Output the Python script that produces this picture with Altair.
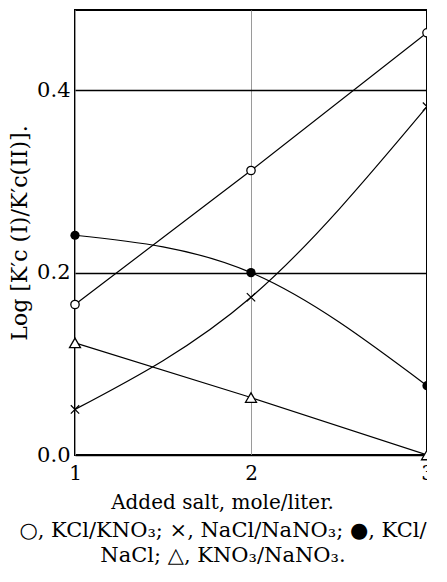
import altair as alt
import pandas as pd

salt = [1, 2, 3]
kcl_kno3 = [0.165, 0.312, 0.463]
nacl_nano3 = [0.050, 0.173, 0.382]
kcl_nacl = [0.241, 0.200, 0.076]
kno3_nano3 = [0.123, 0.063, 0.000]

y_ticks = [0.0, 0.2, 0.4]
x_ticks = [1, 2, 3]

FONT = "DejaVu Serif"

def frame(vals, name):
    return pd.DataFrame({"x": salt, "y": vals, "s": name})

x_enc = alt.X("x:Q", scale=alt.Scale(domain=[1, 3], nice=False, zero=False),
              axis=alt.Axis(values=x_ticks, grid=True, gridColor="#9a9a9a",
                            gridWidth=1, ticks=False, domain=False,
                            labelFlush=False, labelOverlap=False, labelBound=False,
                            labelExpr="datum.value",
                            labelFont=FONT, labelFontSize=20,
                            labelColor="black", labelPadding=8,
                            title="Added salt, mole/liter.", titleFont=FONT,
                            titleFontSize=20, titleFontWeight="normal", titleColor="black",
                            titleX=147, titleAlign="center", titlePadding=9))
y_enc = alt.Y("y:Q", scale=alt.Scale(domain=[0, 0.488], nice=False),
              axis=alt.Axis(values=y_ticks, format=".1f", grid=True, gridColor="black",
                            gridWidth=1.5, ticks=False, domain=False,
                            labelFlush=False, labelOverlap=False, labelBound=False,
                            labelFont=FONT, labelFontSize=21, labelColor="black", labelPadding=5,
                            title="Log [K′c (I)/K′c(II)].", titleFont=FONT,
                            titleFontSize=22, titleFontWeight="normal", titleColor="black",
                            titlePadding=5))

def line(vals, name, interp):
    return alt.Chart(frame(vals, name)).mark_line(color="black", strokeWidth=1.2,
                                                  interpolate=interp).encode(x=x_enc, y=y_enc)

l1 = line(kcl_kno3, "KCl/KNO3", "linear")
l2 = line(nacl_nano3, "NaCl/NaNO3", "natural")
l3 = line(kcl_nacl, "KCl/NaCl", "natural")
l4 = line(kno3_nano3, "KNO3/NaNO3", "linear")

p1 = alt.Chart(frame(kcl_kno3, "a")).mark_point(shape="circle", size=70, filled=True,
                                                 fill="white", stroke="black", strokeWidth=1.3,
                                                 opacity=1).encode(x=x_enc, y=y_enc)
p2 = alt.Chart(frame(nacl_nano3, "b")).mark_point(shape="M -1 -1 L 1 1 M -1 1 L 1 -1", size=70,
                                                   filled=False, stroke="black", strokeWidth=1.2,
                                                   opacity=1).encode(x=x_enc, y=y_enc)
p3 = alt.Chart(frame(kcl_nacl, "c")).mark_point(shape="circle", size=85, filled=True,
                                                 fill="black", opacity=1).encode(x=x_enc, y=y_enc)
p4 = alt.Chart(frame(kno3_nano3, "d")).mark_point(shape="triangle-up", size=120, filled=True,
                                                   fill="white", stroke="black", strokeWidth=1.3,
                                                   opacity=1).encode(x=x_enc, y=y_enc)

chart = alt.layer(l1, l2, l3, l4, p1, p2, p3, p4).properties(
    width=352, height=445,
    autosize=alt.AutoSizeParams(type="none"),
    padding={"left": 67, "top": 2, "right": 0, "bottom": 115},
    background="white",
    title=alt.TitleParams(
        text=["○, KCl/KNO₃;  ×, NaCl/NaNO₃;  ●, KCl/", "NaCl;  △, KNO₃/NaNO₃."],
        orient="bottom", anchor="middle", font=FONT, fontSize=21, fontWeight="normal",
        color="black", offset=8, lineHeight=25, dx=-28),
).configure_view(stroke="black", strokeWidth=2).configure_axis(labelOverlap=False)

chart.save("out.html", embed_options={"renderer": "svg", "actions": False})
